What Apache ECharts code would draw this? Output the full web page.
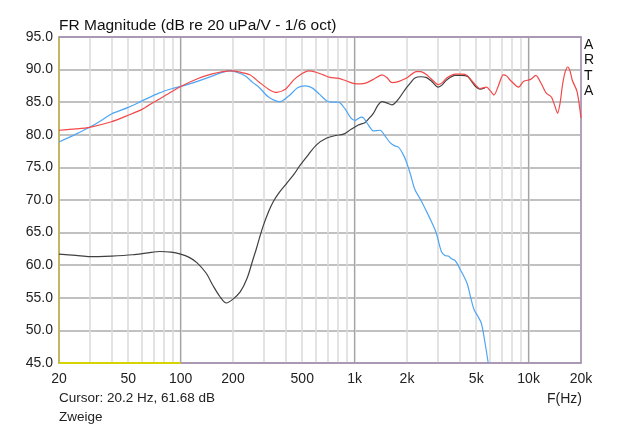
<!DOCTYPE html>
<html>
<head>
<meta charset="utf-8">
<script src="https://cdn.jsdelivr.net/npm/echarts@6/dist/echarts.min.js"></script>
<style>html,body{margin:0;padding:0;background:#fff}#c{width:640px;height:425px}</style>
</head>
<body>
<div id="c"></div>
<script>
// ---- data ----
var gridFreqs = [20,30,40,50,60,70,80,90,100,200,300,400,500,600,700,800,900,1000,2000,3000,4000,5000,6000,7000,8000,9000,10000,20000];
var majorFreqs = [100,1000,10000];
var labelFreqs = [20,50,100,200,500,1000,2000,5000,10000,20000];
var yTicks = [45,50,55,60,65,70,75,80,85,90,95];

var redFreq = [20,25,30,40,50,60,70,85,100,125,150,175,195,220,250,282,320,356,400,450,500,544,600,660,722,800,870,982,1080,1178,1300,1434,1530,1638,1800,1988,2262,2400,2573,2750,3020,3200,3380,3785,4100,4430,4855,5245,5740,6000,6325,6700,7140,7500,7830,8760,9370,10270,11000,11800,12620,13520,14200,14680,15150,15650,16200,16780,17300,17800,19000,20000];
var redDb   = [80.7,80.9,81.15,82.0,83.0,83.9,85.0,86.3,87.4,88.6,89.3,89.7,89.8,89.6,89.2,88.1,87.0,86.5,87.0,88.5,89.4,89.8,89.6,89.2,88.8,88.7,88.4,87.9,87.8,88.0,88.6,89.2,88.8,88.0,88.2,88.7,89.7,89.7,89.3,88.6,87.7,88.0,88.7,89.3,89.3,89.1,87.9,87.1,87.3,86.8,86.1,87.5,89.2,89.0,88.4,87.3,88.2,88.5,89.1,87.9,86.4,85.8,84.3,83.3,84.8,87.6,89.6,90.4,89.8,88.4,86.6,82.6];

var blueFreq = [20,25,30,35,40,50,60,75,90,103,125,145,170,189,210,236,260,282,320,372,420,470,518,570,630,692,750,806,880,950,1006,1090,1125,1200,1282,1402,1480,1600,1700,1786,1900,1988,2100,2220,2400,2573,2750,2950,3152,3300,3455,3600,3785,4053,4430,4650,4855,5100,5350,5600,5860];
var blueDb   = [78.9,80.1,81.15,82.2,83.2,84.2,85.2,86.4,87.1,87.5,88.2,88.8,89.5,89.8,89.6,89.0,88.0,87.3,85.8,85.1,86.0,87.2,87.5,87.2,86.2,85.2,85.0,85.0,84.0,82.6,82.2,82.7,82.6,81.5,80.6,80.7,80.0,78.8,78.3,78.1,77.0,75.8,73.8,71.6,70.0,68.4,66.8,64.9,62.1,61.5,61.4,61.0,60.7,59.3,57.2,55.0,53.2,52.2,51.1,48.3,45.0];

var blackFreq = [20,25,30,40,53,65,76,88,100,112,124,140,154,168,183,200,220,241,260,273,284,298,320,340,370,408,450,485,540,606,692,780,862,950,1050,1150,1200,1282,1360,1434,1530,1638,1800,1945,2100,2220,2400,2573,2750,3020,3200,3380,3785,4100,4430,4700,4960,5245,5600];
var blackDb   = [61.7,61.5,61.3,61.4,61.6,61.9,62.1,62.0,61.7,61.2,60.4,58.8,56.8,55.2,54.2,54.8,55.9,58.0,60.8,62.6,64.2,66.0,68.2,69.7,71.2,72.6,74.0,75.3,76.9,78.5,79.5,79.9,80.1,80.8,81.5,81.9,82.4,83.3,84.5,85.1,84.9,84.6,85.6,86.9,88.0,88.7,88.9,88.8,88.3,87.3,87.7,88.4,89.1,89.1,89.0,88.2,87.4,87.0,87.2];

var yellowFreq = [20,100];
var yellowDb = [45,45];

function zip(a,b){var r=[];for(var i=0;i<a.length;i++)r.push([a[i],b[i]]);return r;}

var FONT = 'Liberation Sans, Arial, sans-serif';
var chart = echarts.init(document.getElementById('c'), null, {renderer:'canvas'});
var purple = '#a48bb0';
chart.setOption({
  animation:false,
  backgroundColor:'#ffffff',
  grid:{left:59,right:59,top:37,bottom:62,containLabel:false},
  xAxis:[{
    type:'log', logBase:10, min:20, max:20000, position:'bottom',
    axisLine:{show:true,lineStyle:{color:purple,width:1.5}},
    axisTick:{show:false,customValues:gridFreqs},
    axisLabel:{show:true,customValues:labelFreqs,color:'#222',fontSize:14,fontFamily:FONT,margin:9,
      formatter:function(v){return v>=1000?(Math.round(v/1000)+'k'):String(Math.round(v));}},
    splitLine:{show:true,lineStyle:{color:'#dadada',width:1.5}}
  },{
    type:'log', logBase:10, min:20, max:20000, position:'top',
    axisLine:{show:true,lineStyle:{color:purple,width:1.5}},
    axisTick:{show:false,customValues:majorFreqs},
    axisLabel:{show:false},
    splitLine:{show:true,lineStyle:{color:'#a4a4a4',width:1.2}}
  }],
  yAxis:[{
    type:'value', min:45, max:95, interval:5, position:'left',
    axisLine:{show:true,lineStyle:{color:'#b8a83a',width:1.5}},
    axisTick:{show:false},
    axisLabel:{color:'#222',fontSize:14,fontFamily:FONT,margin:6,formatter:function(v){return v.toFixed(1);}},
    splitLine:{show:true,lineStyle:{color:'#acacac',width:1.5}}
  },{
    type:'value', min:45, max:95, interval:5, position:'right',
    axisLine:{show:true,lineStyle:{color:purple,width:1.5}},
    axisTick:{show:false}, axisLabel:{show:false}, splitLine:{show:false}
  }],
  series:[
    {type:'line',name:'black',data:zip(blackFreq,blackDb),showSymbol:false,smooth:0.3,lineStyle:{color:'#404040',width:1.2},z:3},
    {type:'line',name:'blue',data:zip(blueFreq,blueDb),showSymbol:false,smooth:0.3,lineStyle:{color:'#4ea6f5',width:1.2},z:4},
    {type:'line',name:'red',data:zip(redFreq,redDb),showSymbol:false,smooth:0.25,lineStyle:{color:'#f24848',width:1.2},z:5},
    {type:'line',name:'yellow',data:zip(yellowFreq,yellowDb),showSymbol:false,clip:false,lineStyle:{color:'#d6d400',width:2},z:6}
  ],
  graphic:[
    {type:'text',left:59,top:18,style:{text:'FR Magnitude (dB re 20 uPa/V - 1/6 oct)',fontSize:15.5,fontFamily:FONT,fill:'#111'}},
    {type:'text',left:59,top:391,style:{text:'Cursor: 20.2 Hz, 61.68 dB',fontSize:13.5,fontFamily:FONT,fill:'#222'}},
    {type:'text',left:59,top:410,style:{text:'Zweige',fontSize:13.5,fontFamily:FONT,fill:'#222'}},
    {type:'text',left:547,top:392,style:{text:'F(Hz)',fontSize:14,fontFamily:FONT,fill:'#222'}},
    {type:'text',left:584,top:37,style:{text:'A\nR\nT\nA',fontSize:14,lineHeight:15.5,fontFamily:FONT,fill:'#111'}}
  ]
});
</script>
</body>
</html>
